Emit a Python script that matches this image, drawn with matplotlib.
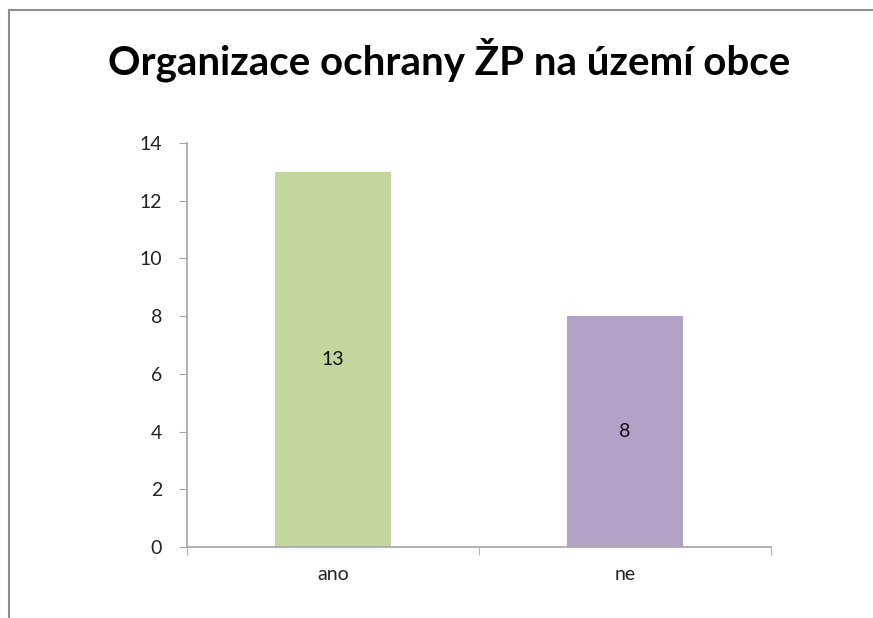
import matplotlib
matplotlib.use("Agg")
import matplotlib.pyplot as plt
from matplotlib.lines import Line2D

categories = ["ano", "ne"]
values = [13, 8]
colors = ["#c3d69b", "#b3a2c7"]
yticks = [0, 2, 4, 6, 8, 10, 12, 14]
title = "Organizace ochrany ŽP na území obce"

plt.rcParams["font.family"] = ["Lato", "DejaVu Sans"]
AX_GREY = "#a6a6a6"

fig = plt.figure(figsize=(8.73, 6.18), dpi=100)
ax = fig.add_axes([187/873, 1-547/618, (771-187)/873, (547-143)/618])

x = list(range(len(categories)))
bars = ax.bar(x, values, width=0.4, color=colors, zorder=2)
for b, v in zip(bars, values):
    ax.text(b.get_x() + b.get_width()/2, v/2, str(v), ha="center", va="center",
            fontsize=14, color="#111111")

ax.set_xlim(-0.5, len(categories) - 0.5)
ax.set_ylim(0, 14)
ax.set_yticks(yticks)
ax.set_xticks(x)
ax.set_xticklabels(categories)
ax.set_xticks([i - 0.5 for i in range(len(categories) + 1)], minor=True)
ax.tick_params(axis="x", which="major", length=0, pad=14, labelsize=14, labelcolor="#222222")
ax.tick_params(axis="x", which="minor", length=6, color=AX_GREY, direction="out")
ax.tick_params(axis="y", length=6, color=AX_GREY, direction="out", pad=12,
               labelsize=14, labelcolor="#222222")
for s in ("top", "right"):
    ax.spines[s].set_visible(False)
for s in ("left", "bottom"):
    ax.spines[s].set_color(AX_GREY)
    ax.spines[s].set_linewidth(1.2)

fig.text(449/873, 1-60/618, title, ha="center", va="center", fontsize=29,
         fontweight="bold", color="black")

# outer chart border (only top and left visible in the crop)
fig.add_artist(Line2D([9/873, 9/873], [0, 1-10/618], color="#8c8c8c", lw=1.5,
                      transform=fig.transFigure))
fig.add_artist(Line2D([9/873, 1], [1-10/618, 1-10/618], color="#8c8c8c", lw=1.5,
                      transform=fig.transFigure))

fig.savefig("out.png", dpi=100)
